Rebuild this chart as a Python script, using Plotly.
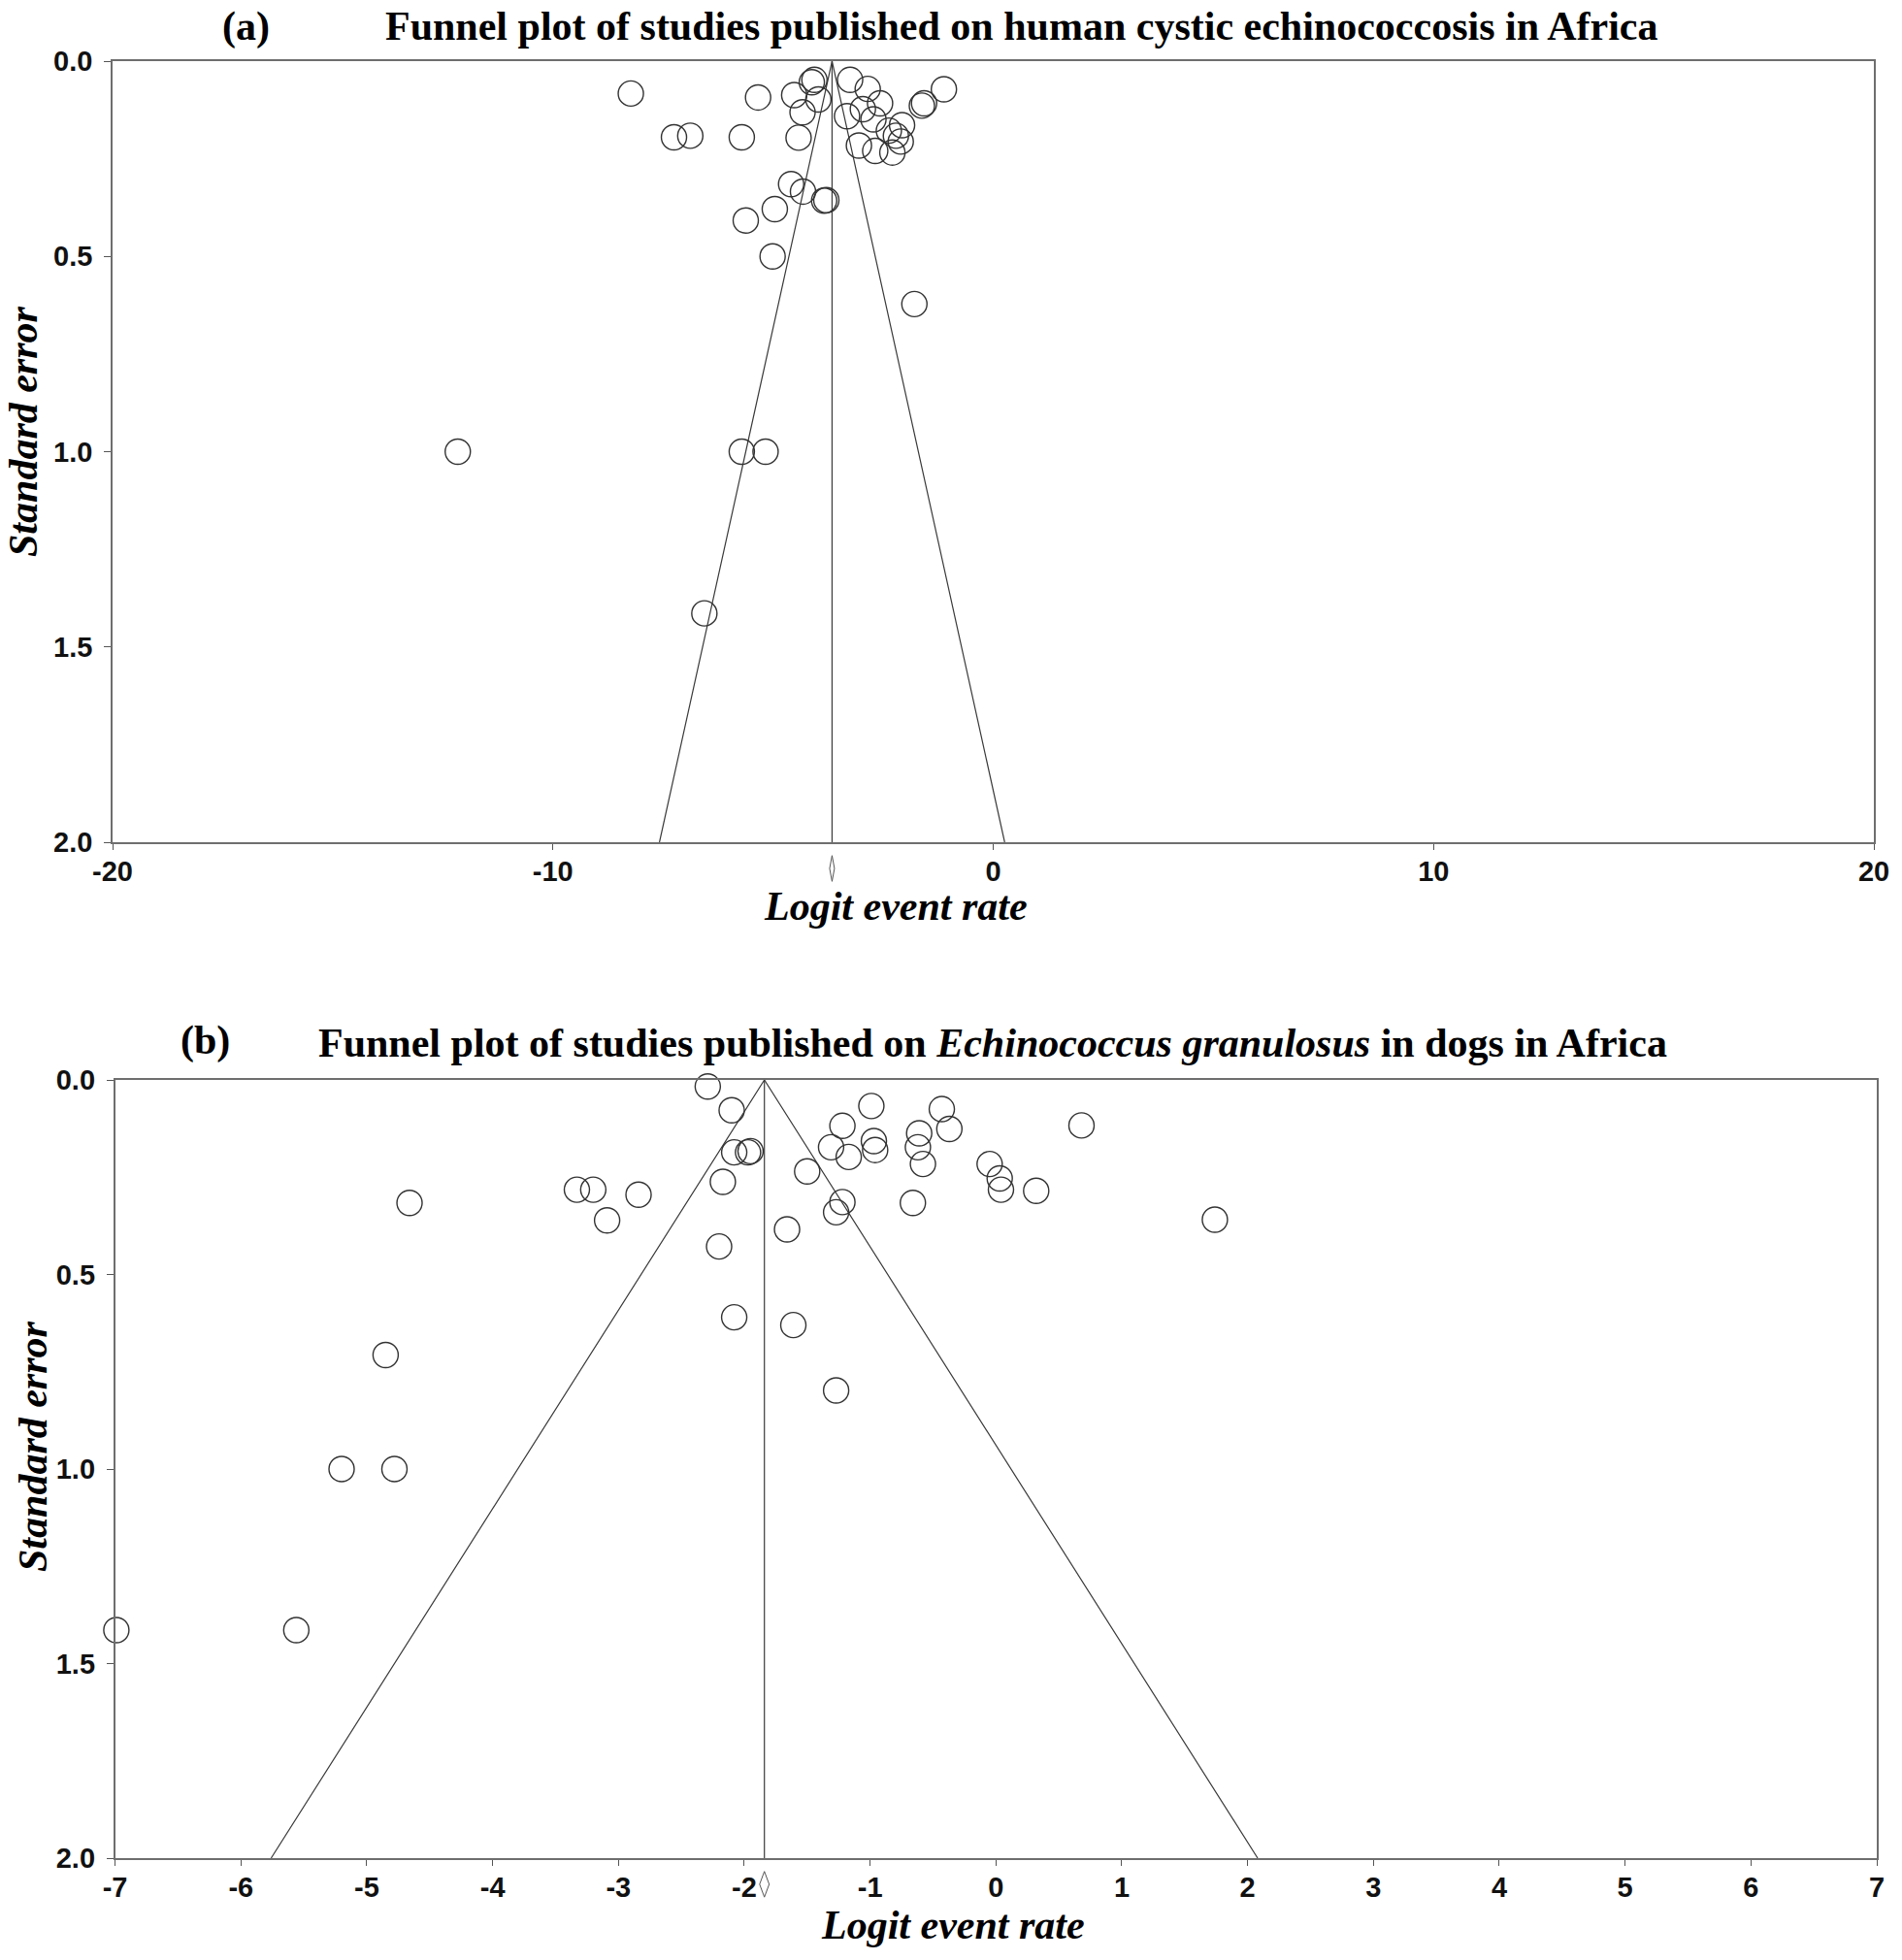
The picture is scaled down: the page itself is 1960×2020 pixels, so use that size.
import plotly.graph_objects as go

# ---------------- data ----------------
# Panel (a): human cystic echinococcosis
a_logit = [-8.23, -5.34, -4.52, -4.06, -4.12, -3.97, -4.33, -4.42, -7.25, -6.88,
           -5.71, -3.25, -2.85, -2.57, -2.96, -3.32, -2.72, -2.07, -2.37, -2.21,
           -2.10, -3.05, -2.68, -2.29, -1.62, -1.57, -1.12, -4.59, -4.32, -3.84,
           -3.79, -4.96, -5.62, -5.01, -1.79, -12.16, -5.71, -5.17, -6.56]
a_se = [0.083, 0.093, 0.087, 0.048, 0.054, 0.098, 0.131, 0.196, 0.195, 0.191,
        0.195, 0.048, 0.071, 0.108, 0.123, 0.141, 0.149, 0.164, 0.178, 0.191,
        0.206, 0.216, 0.230, 0.234, 0.114, 0.108, 0.072, 0.315, 0.334, 0.357,
        0.356, 0.379, 0.408, 0.500, 0.622, 1.0, 1.0, 1.0, 1.414]
a_mean = -3.66
a_ci = [-3.715, -3.605]
a_xticks = [-20, -10, 0, 10, 20]

# Panel (b): Echinococcus granulosus in dogs
b_logit = [-2.29, -2.10, -2.08, -1.97, -1.95, -2.17, -2.20, -2.08, -1.66, -1.61,
           -1.50, -1.31, -1.22, -1.17, -1.22, -1.27, -0.99, -0.97, -0.96, -0.61,
           -0.62, -0.58, -0.66, -0.43, -0.37, -0.05, 0.03, 0.04, 0.32, 0.68,
           1.74, -3.33, -3.20, -2.84, -3.09, -4.66, -4.85, -5.20, -4.78, -6.99,
           -5.56, -1.27]
b_se = [0.017, 0.078, 0.186, 0.186, 0.183, 0.262, 0.428, 0.610, 0.384, 0.630,
        0.235, 0.173, 0.118, 0.198, 0.314, 0.340, 0.067, 0.157, 0.180, 0.137,
        0.173, 0.216, 0.316, 0.075, 0.126, 0.216, 0.253, 0.282, 0.285, 0.117,
        0.359, 0.282, 0.282, 0.295, 0.361, 0.316, 0.707, 1.0, 1.0, 1.414,
        1.414, 0.798]
b_mean = -1.84
b_ci = [-1.878, -1.802]
b_xticks = [-7, -6, -5, -4, -3, -2, -1, 0, 1, 2, 3, 4, 5, 6, 7]

se_ticks = [0.0, 0.5, 1.0, 1.5, 2.0]
se_max = 2.0
z = 1.96

title_a = "Funnel plot of studies published on human cystic echinococcosis in Africa"
title_b = "Funnel plot of studies published on <i>Echinococcus granulosus</i> in dogs in Africa"

# ---------------- figure ----------------
W, H = 1960, 2020
fig = go.Figure()

MARK = "#333333"
LINE = "#3a3a3a"
BORDER = "#6e6e6e"
SERIF = "Liberation Serif, Times New Roman, serif"
SANS = "Liberation Sans, Arial, sans-serif"


def add_panel(xs, ses, mean, ci, xa, ya):
    # funnel
    fig.add_trace(go.Scatter(
        x=[mean - z * se_max, mean, mean + z * se_max], y=[se_max, 0, se_max],
        mode="lines", line=dict(color=LINE, width=1.2),
        xaxis=xa, yaxis=ya, showlegend=False, hoverinfo="skip"))
    fig.add_trace(go.Scatter(
        x=[mean, mean], y=[0, se_max], mode="lines",
        line=dict(color=LINE, width=1.2),
        xaxis=xa, yaxis=ya, showlegend=False, hoverinfo="skip"))
    # studies
    fig.add_trace(go.Scatter(
        x=xs, y=ses, mode="markers",
        marker=dict(symbol="circle-open", size=26, color=MARK,
                    line=dict(width=1.4, color=MARK)),
        xaxis=xa, yaxis=ya, showlegend=False, cliponaxis=False))
    # summary diamond below the axis
    yd = ya + " domain"
    yc, hh = -0.0336, 0.0165
    path = (f"M {ci[0]},{yc} L {mean},{yc + hh} L {ci[1]},{yc} "
            f"L {mean},{yc - hh} Z")
    fig.add_shape(type="path", path=path, xref=xa, yref=yd,
                  line=dict(color="#555555", width=1))


add_panel(a_logit, a_se, a_mean, a_ci, "x", "y")
add_panel(b_logit, b_se, b_mean, b_ci, "x2", "y2")

# panel geometry (pixels)
ax_a = dict(l=116, r=1931, t=63, b=868)
ax_b = dict(l=118.6, r=1934, t=1113, b=1915)


def xdom(p):
    return [p["l"] / W, p["r"] / W]


def ydom(p):
    return [1 - p["b"] / H, 1 - p["t"] / H]


def lab(v):
    return str(v).replace("\u2212", "-")


common_x = dict(showgrid=False, zeroline=False, showline=True, linecolor=BORDER,
                linewidth=1.5, mirror=True, ticks="outside", ticklen=6,
                tickcolor="#555555", tickwidth=1, automargin=False,
                tickfont=dict(family=SANS, size=29, color="#111111", weight="bold"),
                ticklabelstandoff=-3)
common_y = dict(showgrid=False, zeroline=False, showline=True, linecolor=BORDER,
                linewidth=1.5, mirror=True, ticks="outside", ticklen=7,
                tickcolor="#555555", tickwidth=1, range=[2, 0], automargin=False,
                tickvals=se_ticks, ticktext=[f"{v:.1f}" for v in se_ticks],
                tickfont=dict(family=SANS, size=29, color="#111111", weight="bold"),
                ticklabelstandoff=6)

fig.update_layout(
    width=W, height=H, margin=dict(l=0, r=0, t=0, b=0, pad=0, autoexpand=False),
    paper_bgcolor="white", plot_bgcolor="white",
    xaxis=dict(common_x, domain=xdom(ax_a), range=[-20, 20], tickvals=a_xticks,
               ticktext=[lab(v) for v in a_xticks], anchor="y"),
    yaxis=dict(common_y, domain=ydom(ax_a), anchor="x"),
    xaxis2=dict(common_x, domain=xdom(ax_b), range=[-7, 7], tickvals=b_xticks,
                ticktext=[lab(v) for v in b_xticks], anchor="y2"),
    yaxis2=dict(common_y, domain=ydom(ax_b), anchor="x2"),
)


def ann(text, x, y, size, angle=0, italic=False):
    fig.add_annotation(
        text=text, x=x / W, y=1 - y / H, xref="paper", yref="paper",
        showarrow=False, textangle=angle, xanchor="center", yanchor="middle",
        font=dict(family=SERIF, size=size, color="#000000", weight="bold",
                  style="italic" if italic else "normal"))


# titles
ann("(a)", 253, 27, 42)
ann(title_a, 1053, 27, 42)
ann("(b)", 211, 1072, 42)
ann(title_b, 1023, 1075, 42)

# axis titles
ann("Logit event rate", 923, 934, 42, italic=True)
ann("Logit event rate", 982, 1984, 42, italic=True)
ann("Standard error", 24, 445, 42, angle=-90, italic=True)
ann("Standard error", 34, 1491, 42, angle=-90, italic=True)

fig.write_html("out.html",
               config={"displayModeBar": False},
               post_script="document.body.style.margin='0px';"
                           "document.body.style.padding='0px';")
